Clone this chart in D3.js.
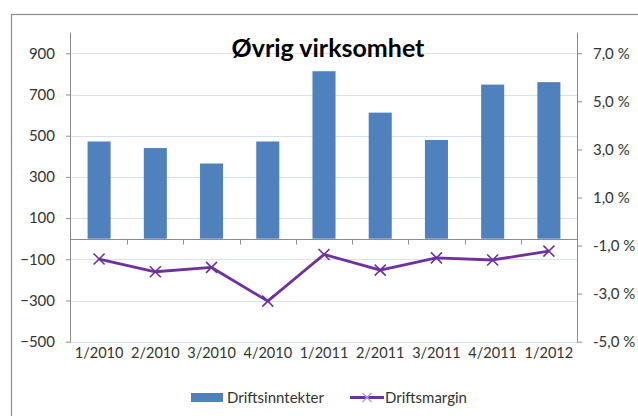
<!DOCTYPE html>
<html>
<head>
<meta charset="utf-8">
<script src="https://cdn.jsdelivr.net/npm/d3@7"></script>
<style>
  body { margin: 0; background: #fff; }
  text { font-family: Lato, "Open Sans", sans-serif; }
</style>
</head>
<body>
<div id="chart"></div>
<script>
var quarters = ["1/2010", "2/2010", "3/2010", "4/2010", "1/2011", "2/2011", "3/2011", "4/2011", "1/2012"];
var driftsinntekter = [472, 440, 365, 472, 813, 612, 479, 748, 760];
var driftsmargin = [-1.56, -2.09, -1.91, -3.31, -1.37, -2.02, -1.51, -1.60, -1.23];
var leftTicks = [900, 700, 500, 300, 100, -100, -300, -500];
var rightTicks = [7, 5, 3, 1, -1, -3, -5];

var renderChart = function() {
  var svg = d3.select("#chart").append("svg")
    .attr("width", 638)
    .attr("height", 416);

  // chart frame (runs off the page on right and bottom)
  svg.append("rect")
    .attr("x", 11.5).attr("y", 14.5)
    .attr("width", 700).attr("height", 500)
    .attr("fill", "none")
    .attr("stroke", "#8c8c8c")
    .attr("stroke-width", 1.2);

  var left = 71, right = 577, top = 32.7, bottom = 341.7;

  var x = d3.scaleBand().domain(quarters).range([left, right]).padding(0);
  var y = d3.scaleLinear().domain([-500, 1000]).range([bottom, top]);
  var y2 = d3.scaleLinear().domain([-5, 7.857]).range([bottom, top]);

  // gridlines
  svg.append("g").selectAll("line")
    .data(leftTicks)
    .enter()
    .append("line")
      .attr("x1", left).attr("x2", right)
      .attr("y1", function(d) { return Math.round(y(d)) + 0.5; })
      .attr("y2", function(d) { return Math.round(y(d)) + 0.5; })
      .attr("stroke", "#d6e2f2")
      .attr("stroke-width", 1);

  // bars
  var bw = x.bandwidth() * 0.41;
  svg.append("g").selectAll("rect")
    .data(driftsinntekter)
    .enter()
    .append("rect")
      .attr("x", function(d, i) { return x(quarters[i]) + x.bandwidth() / 2 - bw / 2; })
      .attr("y", function(d) { return y(d); })
      .attr("width", bw)
      .attr("height", function(d) { return y(0) - y(d); })
      .attr("fill", "#4f81bd");

  // left axis
  var yAxis = svg.append("g")
    .attr("transform", "translate(" + left + ",0)")
    .call(d3.axisLeft(y).tickValues(leftTicks).tickSize(5).tickPadding(11).tickFormat(d3.format("d")));
  yAxis.select(".domain").attr("stroke", "#8c8c8c").attr("d", "M-0.5," + top + "V" + bottom);

  // right axis
  var y2Axis = svg.append("g")
    .attr("transform", "translate(" + right + ",0)")
    .call(d3.axisRight(y2).tickValues(rightTicks).tickSize(5).tickPadding(11)
      .tickFormat(function(d) { return d3.format(".1f")(d).replace(".", ",").replace("−", "-") + " %"; }));
  y2Axis.select(".domain").attr("stroke", "#8c8c8c").attr("d", "M0.5," + top + "V" + bottom);

  // category axis at zero
  var zeroY = Math.round(y(0)) + 0.5;
  svg.append("line")
    .attr("x1", left).attr("x2", right)
    .attr("y1", zeroY).attr("y2", zeroY)
    .attr("stroke", "#8c8c8c");
  svg.append("g").selectAll("line")
    .data(quarters.slice(1))
    .enter()
    .append("line")
      .attr("x1", function(d) { return Math.round(x(d)) + 0.5; })
      .attr("x2", function(d) { return Math.round(x(d)) + 0.5; })
      .attr("y1", zeroY).attr("y2", zeroY + 5)
      .attr("stroke", "#8c8c8c");

  // category labels at the bottom
  svg.append("g").selectAll("text")
    .data(quarters)
    .enter()
    .append("text")
      .attr("x", function(d) { return x(d) + x.bandwidth() / 2; })
      .attr("y", 358)
      .attr("text-anchor", "middle")
      .style("font-size", "14.5px")
      .style("fill", "#333")
      .text(function(d) { return d; });

  svg.selectAll(".tick text").style("font-size", "15px").style("fill", "#333");
  svg.selectAll(".tick line").attr("stroke", "#8c8c8c");

  // margin line
  var line = d3.line()
    .x(function(d, i) { return x(quarters[i]) + x.bandwidth() / 2; })
    .y(function(d) { return y2(d); });
  svg.append("path")
    .datum(driftsmargin)
    .attr("d", line)
    .attr("fill", "none")
    .attr("stroke", "#7030a0")
    .attr("stroke-width", 2.8)
    .attr("stroke-linejoin", "round");

  var cross = function(cx, cy, r) {
    return "M" + (cx - r) + "," + (cy - r) + "L" + (cx + r) + "," + (cy + r) +
           "M" + (cx - r) + "," + (cy + r) + "L" + (cx + r) + "," + (cy - r);
  };
  svg.append("g").selectAll("path")
    .data(driftsmargin)
    .enter()
    .append("path")
      .attr("d", function(d, i) { return cross(x(quarters[i]) + x.bandwidth() / 2, y2(d), 5.5); })
      .attr("stroke", "#7030a0")
      .attr("stroke-width", 1.6)
      .attr("fill", "none");

  // title
  svg.append("text")
    .attr("x", 328)
    .attr("y", 57)
    .attr("text-anchor", "middle")
    .style("font-size", "25px")
    .style("font-weight", "bold")
    .style("fill", "#000")
    .text("Øvrig virksomhet");

  // legend
  var legend = svg.append("g");
  legend.append("rect")
    .attr("x", 191).attr("y", 393)
    .attr("width", 32).attr("height", 9)
    .attr("fill", "#4f81bd");
  legend.append("text")
    .attr("x", 227).attr("y", 402.5)
    .style("font-size", "15px").style("fill", "#333")
    .text("Driftsinntekter");
  legend.append("line")
    .attr("x1", 350).attr("x2", 384)
    .attr("y1", 397.5).attr("y2", 397.5)
    .attr("stroke", "#7030a0").attr("stroke-width", 2.8);
  legend.append("path")
    .attr("d", cross(367, 397.5, 4.5))
    .attr("stroke", "#b69ad6").attr("stroke-width", 1.4);
  legend.append("text")
    .attr("x", 385).attr("y", 402.5)
    .style("font-size", "15px").style("fill", "#333")
    .text("Driftsmargin");
};

renderChart();
</script>
</body>
</html>
